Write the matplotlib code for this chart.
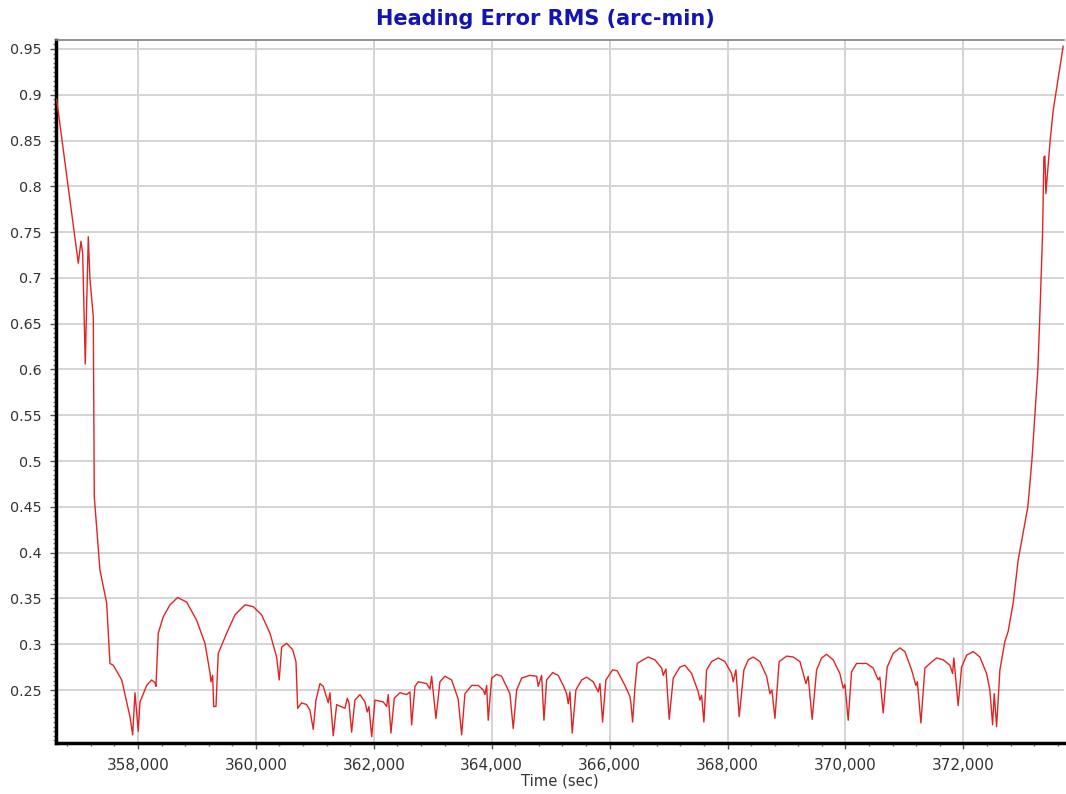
#Heading error RMS over time

#import the libraries
import matplotlib
matplotlib.use('Agg')
import matplotlib.pyplot as plt
from matplotlib.ticker import MultipleLocator, FuncFormatter

#store the data
time_sec = [356620, 356988, 357033, 357062, 357106, 357157, 357186, 357242, 357259, 357355,
            357469, 357525, 357581, 357724, 357864, 357910, 357949, 358005, 358034, 358148,
            358232, 358288, 358305, 358344, 358429, 358543, 358673, 358826, 358996, 359136,
            359221, 359238, 359267, 359284, 359323, 359362, 359504, 359645, 359815, 359956,
            360098, 360239, 360352, 360396, 360437, 360522, 360624, 360680, 360709, 360776,
            360861, 360917, 360973, 361019, 361087, 361143, 361227, 361256, 361273, 361312,
            361370, 361511, 361550, 361579, 361624, 361680, 361765, 361850, 361889, 361918,
            361964, 362020, 362160, 362218, 362245, 362291, 362347, 362444, 362557, 362613,
            362642, 362698, 362754, 362896, 362952, 362981, 363054, 363122, 363207, 363320,
            363405, 363432, 363490, 363546, 363660, 363771, 363856, 363885, 363914, 363941,
            363999, 364084, 364168, 364280, 364309, 364365, 364423, 364508, 364648, 364762,
            364789, 364847, 364886, 364932, 365033, 365128, 365213, 365271, 365298, 365327,
            365366, 365428, 365525, 365610, 365722, 365807, 365836, 365881, 365937, 366051,
            366129, 366260, 366344, 366361, 366390, 366429, 366468, 366570, 366655, 366768,
            366882, 366909, 366955, 367011, 367079, 367192, 367277, 367391, 367503, 367532,
            367560, 367599, 367645, 367730, 367842, 367956, 368069, 368096, 368142, 368198,
            368278, 368351, 368436, 368549, 368663, 368719, 368753, 368804, 368876, 369002,
            369114, 369228, 369284, 369329, 369368, 369436, 369511, 369596, 369680, 369792,
            369906, 369962, 369991, 370047, 370104, 370189, 370359, 370471, 370556, 370584,
            370640, 370708, 370810, 370924, 371008, 371122, 371195, 371220, 371280, 371348,
            371432, 371546, 371658, 371772, 371817, 371839, 371912, 371970, 372055, 372167,
            372280, 372394, 372450, 372496, 372523, 372564, 372620, 372704, 372760, 372845,
            372930, 373094, 373162, 373213, 373264, 373298, 373344, 373366, 373383, 373400,
            373468, 373524, 373693]

rms_arcmin = [0.895, 0.716, 0.740, 0.727, 0.606, 0.745, 0.698, 0.658, 0.461, 0.381,
              0.345, 0.279, 0.277, 0.261, 0.221, 0.201, 0.247, 0.205, 0.237, 0.255,
              0.261, 0.258, 0.254, 0.312, 0.330, 0.343, 0.351, 0.346, 0.326, 0.301,
              0.269, 0.259, 0.266, 0.232, 0.232, 0.290, 0.312, 0.332, 0.343, 0.341,
              0.332, 0.312, 0.286, 0.261, 0.297, 0.301, 0.294, 0.281, 0.230, 0.236,
              0.234, 0.228, 0.207, 0.239, 0.257, 0.254, 0.236, 0.247, 0.232, 0.200,
              0.234, 0.230, 0.241, 0.236, 0.204, 0.239, 0.245, 0.237, 0.226, 0.232,
              0.199, 0.239, 0.237, 0.232, 0.245, 0.203, 0.241, 0.247, 0.245, 0.248,
              0.212, 0.254, 0.259, 0.257, 0.251, 0.265, 0.219, 0.259, 0.265, 0.261,
              0.245, 0.240, 0.201, 0.246, 0.255, 0.255, 0.250, 0.245, 0.255, 0.217,
              0.263, 0.267, 0.265, 0.250, 0.246, 0.208, 0.250, 0.263, 0.266, 0.265,
              0.254, 0.266, 0.217, 0.261, 0.269, 0.266, 0.255, 0.246, 0.235, 0.248,
              0.203, 0.250, 0.261, 0.264, 0.259, 0.248, 0.257, 0.215, 0.261, 0.272,
              0.271, 0.255, 0.243, 0.236, 0.215, 0.252, 0.279, 0.283, 0.286, 0.283,
              0.274, 0.266, 0.273, 0.218, 0.263, 0.275, 0.277, 0.268, 0.248, 0.239,
              0.244, 0.215, 0.272, 0.281, 0.285, 0.281, 0.268, 0.259, 0.272, 0.221,
              0.272, 0.283, 0.286, 0.281, 0.265, 0.246, 0.250, 0.219, 0.281, 0.287,
              0.286, 0.281, 0.268, 0.257, 0.265, 0.218, 0.272, 0.285, 0.289, 0.283,
              0.268, 0.252, 0.256, 0.217, 0.270, 0.279, 0.279, 0.274, 0.261, 0.264,
              0.225, 0.275, 0.290, 0.296, 0.292, 0.272, 0.255, 0.259, 0.214, 0.274,
              0.279, 0.285, 0.283, 0.277, 0.268, 0.285, 0.233, 0.275, 0.288, 0.292,
              0.286, 0.268, 0.250, 0.212, 0.246, 0.210, 0.272, 0.303, 0.314, 0.345,
              0.392, 0.450, 0.500, 0.550, 0.600, 0.660, 0.749, 0.832, 0.833, 0.792,
              0.847, 0.883, 0.953]

y_ticks = [0.25, 0.3, 0.35, 0.4, 0.45, 0.5, 0.55, 0.6, 0.65, 0.7, 0.75, 0.8, 0.85, 0.9, 0.95]
y_labels = ['0.25', '0.3', '0.35', '0.4', '0.45', '0.5', '0.55', '0.6', '0.65', '0.7',
            '0.75', '0.8', '0.85', '0.9', '0.95']

#set up the figure
fig = plt.figure(figsize=(10.66, 7.94), dpi=100)
ax = fig.add_axes([0.0525, 0.0642, 0.9455, 0.8854])

#plot the line
ax.plot(time_sec, rms_arcmin, color='#e02424', linewidth=1.0, zorder=3)

ax.set_xlim(356609, 373705)
ax.set_ylim(0.1921, 0.9598)

#ticks and grid
ax.xaxis.set_major_locator(MultipleLocator(2000))
ax.xaxis.set_minor_locator(MultipleLocator(400))
ax.xaxis.set_major_formatter(FuncFormatter(lambda v, p: '{:,.0f}'.format(v)))
ax.set_yticks(y_ticks)
ax.set_yticklabels(y_labels)
ax.yaxis.set_minor_locator(MultipleLocator(0.005))

ax.grid(True, which='major', color='#d4d4d4', linewidth=1.4, zorder=0)
ax.set_axisbelow(True)

ax.tick_params(axis='both', which='major', labelcolor='#333333',
               color='#555555', length=4, width=1)
ax.tick_params(axis='both', which='minor', color='#777777', length=2, width=1)
ax.tick_params(axis='x', which='major', pad=7, labelsize=11)
ax.tick_params(axis='y', which='major', pad=6, labelsize=10.3)

#spines
ax.spines['left'].set_linewidth(2.5)
ax.spines['left'].set_color('black')
ax.spines['bottom'].set_linewidth(2.5)
ax.spines['bottom'].set_color('black')
ax.spines['top'].set_linewidth(1.2)
ax.spines['top'].set_color('#808080')
ax.spines['right'].set_visible(False)

#labels
ax.set_xlabel('Time (sec)', fontsize=10.6, color='#333333', labelpad=0)
fig.text(0.512, 0.976, 'Heading Error RMS (arc-min)', ha='center', va='center',
         fontsize=15, fontweight='bold', color='#1414b4')

plt.savefig('out.png', dpi=100)
